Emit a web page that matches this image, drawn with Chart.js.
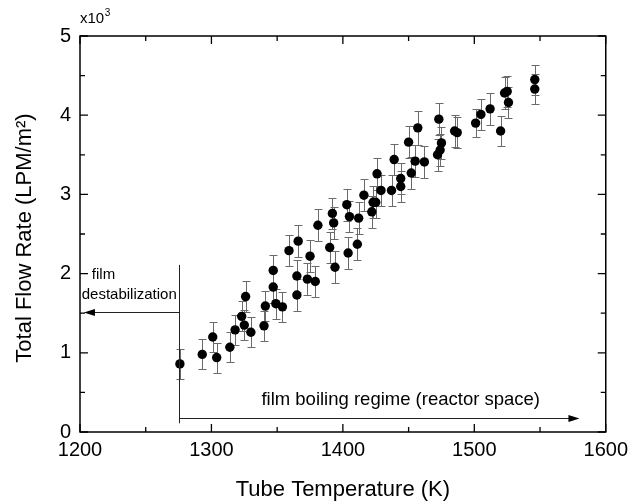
<!DOCTYPE html>
<html lang="en">
<head>
    <meta charset="UTF-8">
    <title>Total Flow Rate vs Tube Temperature</title>
    <script src="https://cdn.jsdelivr.net/npm/chart.js"></script>
    <style>
        html, body { margin: 0; padding: 0; background: #fff; }
    </style>
</head>
<body>
    <canvas id="flowChart" width="634" height="504"></canvas>

    <script>
        // Tube temperature (K)
        const tubeTemp = [1276, 1293, 1301, 1304, 1314, 1318, 1323, 1325, 1326, 1330,
                          1340, 1341, 1347, 1347, 1349, 1354, 1359, 1365, 1365, 1366,
                          1373, 1375, 1379, 1381, 1390, 1392, 1393, 1394, 1403, 1404,
                          1405, 1411, 1412, 1416, 1422, 1423, 1425, 1426, 1429, 1437,
                          1439, 1444, 1444, 1450, 1452, 1455, 1457, 1462, 1472, 1473,
                          1474, 1475, 1485, 1487, 1501, 1505, 1512, 1520, 1523, 1525,
                          1526, 1546, 1546];
        // Total flow rate (x10^3 LPM/m^2)
        const flowRate = [0.86, 0.98, 1.20, 0.94, 1.07, 1.29, 1.46, 1.35, 1.71, 1.26,
                          1.34, 1.59, 1.83, 2.04, 1.62, 1.58, 2.29, 1.97, 1.73, 2.41,
                          1.93, 2.22, 1.90, 2.61, 2.33, 2.76, 2.64, 2.08, 2.87, 2.26,
                          2.72, 2.37, 2.70, 2.99, 2.78, 2.90, 2.90, 3.26, 3.05, 3.05,
                          3.44, 3.10, 3.20, 3.66, 3.27, 3.42, 3.84, 3.41, 3.50, 3.95,
                          3.56, 3.65, 3.80, 3.78, 3.90, 4.01, 4.08, 3.80, 4.28, 4.30,
                          4.16, 4.45, 4.33];
        // error bar half-length (x10^3 LPM/m^2)
        const flowErr = [0.19, 0.19, 0.19, 0.19, 0.19, 0.19, 0.19, 0.19, 0.20, 0.19,
                         0.19, 0.19, 0.20, 0.20, 0.19, 0.19, 0.20, 0.20, 0.20, 0.20,
                         0.20, 0.20, 0.20, 0.20, 0.20, 0.20, 0.20, 0.20, 0.20, 0.20,
                         0.20, 0.20, 0.20, 0.20, 0.20, 0.20, 0.20, 0.20, 0.20, 0.20,
                         0.20, 0.20, 0.20, 0.20, 0.20, 0.20, 0.21, 0.20, 0.20, 0.20,
                         0.20, 0.20, 0.20, 0.20, 0.18, 0.20, 0.20, 0.19, 0.20, 0.20,
                         0.20, 0.19, 0.19];

        const xTicks = [1200, 1300, 1400, 1500, 1600];
        const xMinor = [1250, 1350, 1450, 1550];
        const yTicks = [0, 1, 2, 3, 4, 5];
        const yMinor = [0.5, 1.5, 2.5, 3.5, 4.5];

        const FONT = "'Liberation Sans', Arial, sans-serif";

        // vertical error bars, drawn under the points
        const errorBars = {
            id: 'errorBars',
            beforeDatasetsDraw(chart) {
                const { ctx, scales: { x, y } } = chart;
                ctx.save();
                ctx.strokeStyle = '#6a6a6a';
                ctx.lineWidth = 1;
                ctx.beginPath();
                tubeTemp.forEach((t, i) => {
                    const px = Math.round(x.getPixelForValue(t)) + 0.5;
                    const top = Math.round(y.getPixelForValue(flowRate[i] + flowErr[i])) + 0.5;
                    const bot = Math.round(y.getPixelForValue(flowRate[i] - flowErr[i])) + 0.5;
                    ctx.moveTo(px, top); ctx.lineTo(px, bot);
                    ctx.moveTo(px - 4, top); ctx.lineTo(px + 4, top);
                    ctx.moveTo(px - 4, bot); ctx.lineTo(px + 4, bot);
                });
                ctx.stroke();
                ctx.restore();
            }
        };

        function arrowHead(ctx, tipX, tipY, dir) {
            ctx.beginPath();
            ctx.moveTo(tipX, tipY);
            ctx.lineTo(tipX - dir * 11, tipY - 3.5);
            ctx.lineTo(tipX - dir * 11, tipY + 3.5);
            ctx.closePath();
            ctx.fill();
        }

        // box, inward ticks, annotations and axis titles
        const frame = {
            id: 'frame',
            afterDraw(chart) {
                const { ctx, chartArea: a, scales: { x, y } } = chart;
                ctx.save();
                ctx.strokeStyle = '#000';
                ctx.lineWidth = 1.5;
                ctx.strokeRect(a.left, a.top, a.right - a.left, a.bottom - a.top);

                ctx.lineWidth = 1.3;
                ctx.beginPath();
                const tickX = (v, len) => {
                    const p = x.getPixelForValue(v);
                    ctx.moveTo(p, a.bottom); ctx.lineTo(p, a.bottom - len);
                    ctx.moveTo(p, a.top); ctx.lineTo(p, a.top + len);
                };
                const tickY = (v, len) => {
                    const p = y.getPixelForValue(v);
                    ctx.moveTo(a.left, p); ctx.lineTo(a.left + len, p);
                    ctx.moveTo(a.right, p); ctx.lineTo(a.right - len, p);
                };
                xTicks.forEach(v => tickX(v, 8));
                xMinor.forEach(v => tickX(v, 5));
                yTicks.forEach(v => tickY(v, 8));
                yMinor.forEach(v => tickY(v, 5));
                ctx.stroke();

                // regime boundary and arrows
                const bx = Math.round(x.getPixelForValue(1275)) + 0.5;
                ctx.strokeStyle = '#222';
                ctx.fillStyle = '#000';
                ctx.lineWidth = 1;
                ctx.beginPath();
                ctx.moveTo(bx, y.getPixelForValue(2.11));
                ctx.lineTo(bx, y.getPixelForValue(0.11));
                const rY = Math.round(y.getPixelForValue(0.18)) + 0.5;
                const rEnd = x.getPixelForValue(1580);
                ctx.moveTo(bx, rY); ctx.lineTo(rEnd - 8, rY);
                const lY = Math.round(y.getPixelForValue(1.52)) + 0.5;
                const lEnd = x.getPixelForValue(1203);
                ctx.moveTo(bx, lY); ctx.lineTo(lEnd + 8, lY);
                ctx.stroke();
                arrowHead(ctx, rEnd, rY, 1);
                arrowHead(ctx, lEnd, lY, -1);

                ctx.fillStyle = '#000';
                ctx.textBaseline = 'middle';
                ctx.font = '18.5px ' + FONT;
                ctx.textAlign = 'center';
                ctx.fillText('film boiling regime (reactor space)', x.getPixelForValue(1444), y.getPixelForValue(0.40));
                ctx.font = '15px ' + FONT;
                ctx.textAlign = 'left';
                ctx.fillText('film', x.getPixelForValue(1209), y.getPixelForValue(1.98));
                ctx.fillText('destabilization', x.getPixelForValue(1201.3), y.getPixelForValue(1.73));

                // multiplier
                ctx.font = '15px ' + FONT;
                ctx.fillText('x10', a.left, a.top - 17);
                const w = ctx.measureText('x10').width;
                ctx.font = '10px ' + FONT;
                ctx.fillText('3', a.left + w + 0.5, a.top - 23);

                // axis titles
                ctx.font = '22px ' + FONT;
                ctx.textAlign = 'center';
                ctx.fillText('Tube Temperature (K)', (a.left + a.right) / 2, 490);
                ctx.translate(25, (a.top + a.bottom) / 2 + 4);
                ctx.rotate(-Math.PI / 2);
                ctx.fillText('Total Flow Rate (LPM/m\u00B2)', 0, 0);
                ctx.restore();
            }
        };

        const ctx = document.getElementById('flowChart').getContext('2d');
        new Chart(ctx, {
            type: 'scatter',
            data: {
                datasets: [{
                    data: tubeTemp.map((t, i) => ({ x: t, y: flowRate[i] })),
                    backgroundColor: '#000',
                    borderColor: '#000',
                    borderWidth: 0,
                    pointRadius: 4.7
                }]
            },
            options: {
                responsive: false,
                animation: false,
                layout: { padding: { top: 36, right: 26, left: 0, bottom: 0 } },
                plugins: {
                    legend: { display: false },
                    tooltip: { enabled: false }
                },
                scales: {
                    x: {
                        type: 'linear',
                        min: 1200,
                        max: 1600,
                        afterBuildTicks: s => { s.ticks = xTicks.map(v => ({ value: v })); },
                        afterFit: s => { s.height = 72; },
                        grid: { display: false, drawTicks: false },
                        border: { display: false },
                        ticks: {
                            color: '#000',
                            padding: 6,
                            maxRotation: 0,
                            font: { family: FONT, size: 20 },
                            callback: v => String(v)
                        }
                    },
                    y: {
                        min: 0,
                        max: 5,
                        afterBuildTicks: s => { s.ticks = yTicks.map(v => ({ value: v })); },
                        afterFit: s => { s.width = 80; },
                        grid: { display: false, drawTicks: false },
                        border: { display: false },
                        ticks: {
                            color: '#000',
                            padding: 9,
                            font: { family: FONT, size: 20 },
                            callback: v => String(v)
                        }
                    }
                }
            },
            plugins: [errorBars, frame]
        });
    </script>
</body>
</html>
